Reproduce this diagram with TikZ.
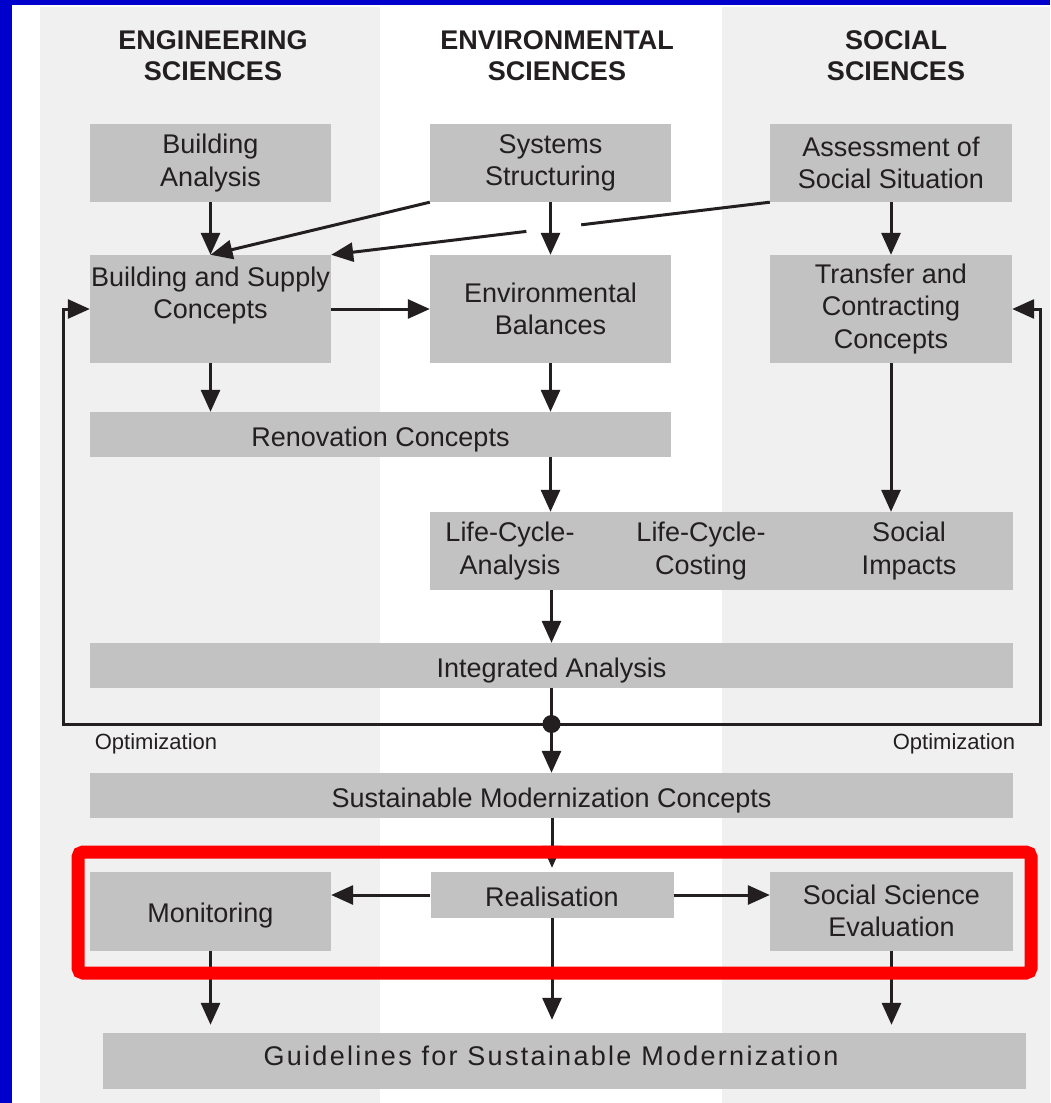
\documentclass[tikz,border=0pt]{standalone}
\usepackage{fontspec}
\setmainfont{Liberation Sans}
\usetikzlibrary{arrows.meta,calc}
\definecolor{frameblue}{RGB}{0,0,204}
\definecolor{colgray}{RGB}{240,240,240}
\definecolor{boxgray}{RGB}{194,194,194}
\definecolor{inkdark}{RGB}{35,31,32}
\tikzset{
  box/.style={fill=boxgray, inner sep=0pt, align=center, text=inkdark,
    font=\fontsize{27}{32.5}\selectfont},
  onerow/.style={box, text height=23pt, text depth=0pt},
  boxtext/.style={inner sep=0pt, align=center, text=inkdark,
    font=\fontsize{27}{32.5}\selectfont},
  colhead/.style={inner sep=0pt, align=center, text=inkdark,
    font=\fontsize{27}{31}\selectfont\bfseries},
  optlabel/.style={inner sep=0pt, text=inkdark, font=\fontsize{22}{26}\selectfont},
  lin/.style={line width=3pt, draw=inkdark},
  arr/.style={lin, -{Triangle[length=22pt,width=19pt]}},
}
\begin{document}
\begin{tikzpicture}[x=1pt,y=-1pt]
    \useasboundingbox (0,0) rectangle (1050,1103);
    \fill[frameblue] (0,0) rectangle (1050,1103);
    \fill[white] (12,5) rectangle (1050,1103);
    \fill[colgray] (40,7) rectangle (380,1103);
    \fill[colgray] (722,7) rectangle (1050,1103);

    \node[colhead] (hengsci) at (213,56) {ENGINEERING\\SCIENCES};
    \node[colhead] (hensci) at (557,56) {ENVIRONMENTAL\\SCIENCES};
    \node[colhead] (hsocsci) at (896,56) {SOCIAL\\SCIENCES};

    \node[box, minimum width=241pt, minimum height=78pt] (bana) at (210.5,163) {Building\\Analysis};
    \node[box, minimum width=241pt, minimum height=78pt] (sys) at (550.5,163) {Systems\\Structuring};
    \node[box, minimum width=242pt, minimum height=78pt] (soc) at (891,163) {Assessment of\\Social Situation};
    \node[box, minimum width=241pt, minimum height=108pt] (bsc) at (210.5,309) {Building and Supply\\Concepts\\\mbox{}};
    \node[box, minimum width=241pt, minimum height=108pt] (env) at (550.5,309) {Environmental\\Balances};
    \node[box, minimum width=242pt, minimum height=108pt] (tra) at (891,309) {Transfer and\\Contracting\\Concepts};
    \node[onerow, minimum width=581pt, minimum height=45pt] (ren) at (380.5,434.5) {Renovation Concepts};
    \node[box, minimum width=583pt, minimum height=78pt] (lc) at (721.5,551) {};
      \node[boxtext] (lca) at (510,551) {Life-Cycle-\\Analysis};
      \node[boxtext] (lcc) at (701,551) {Life-Cycle-\\Costing};
      \node[boxtext] (simp) at (909,551) {Social\\Impacts};
    \node[onerow, minimum width=923pt, minimum height=45pt] (int) at (551.5,665.5) {Integrated Analysis};
    \node[onerow, minimum width=923pt, minimum height=45pt] (smc) at (551.5,795.5) {Sustainable Modernization Concepts};
    \node[onerow, minimum width=241pt, minimum height=79pt] (mon) at (210.5,911) {Monitoring};
    \node[onerow, minimum width=243pt, minimum height=46pt] (rea) at (552,895) {Realisation};
    \node[box, minimum width=243pt, minimum height=79pt] (sse) at (891.5,911) {Social Science\\Evaluation};
    \node[box, text height=14pt, text depth=6pt, minimum width=923pt, minimum height=56pt] (gui) at (564.5,1061)
      {\addfontfeature{LetterSpace=8.5}Guidelines for Sustainable Modernization\hspace*{27pt}};

    \draw[arr] (bana) -- (bsc);
    \draw[arr] (sys) -- (env);
    \draw[arr] (soc) -- (tra);
    \draw[arr] (sys.south west) -- (bsc.north);
    \draw[lin] (soc.south west) -- ($(soc.south west)!0.43!(bsc.north east)$);
    \draw[arr] ($(soc.south west)!0.555!(bsc.north east)$) -- (bsc.north east);
    \draw[arr] (bsc) -- (env);
    \draw[arr] (bsc.south) -- (bsc.south |- ren.north);
    \draw[arr] (env.south) -- (env.south |- ren.north);
    \draw[arr] (ren.south -| env) -- (lc.north -| env);
    \draw[arr] (tra.south) -- (tra.south |- lc.north);
    \draw[arr] (lc.south -| int) -- (int.north);

    \coordinate (opt) at (551.5,724);
    \coordinate (optl) at (63,724);
    \coordinate (optr) at (1040,724);
    \draw[arr] (int.south) -- (smc.north);
    \draw[arr] (opt) -- (optl) |- (bsc.west);
    \draw[arr] (opt) -- (optr) |- (tra.east);
    \fill[inkdark] (opt) circle (9pt);
    \node[optlabel] (optll) at (156,744) {Optimization};
    \node[optlabel] (optrl) at (954,744) {Optimization};

    \draw[arr, shorten >=4pt] (smc.south -| rea) -- (rea.north);
    \draw[arr] (rea.west) -- (rea.west -| mon.east);
    \draw[arr] (rea.east) -- (rea.east -| sse.west);
    \draw[arr, shorten >=8pt] (mon.south) -- (mon.south |- gui.north);
    \draw[arr, shorten >=13pt] (rea.south) -- (rea.south |- gui.north);
    \draw[arr, shorten >=8pt] (sse.south) -- (sse.south |- gui.north);

    \draw[red, line width=13pt, rounded corners=5pt] (78,852) rectangle (1031,973);
\end{tikzpicture}
\end{document}
